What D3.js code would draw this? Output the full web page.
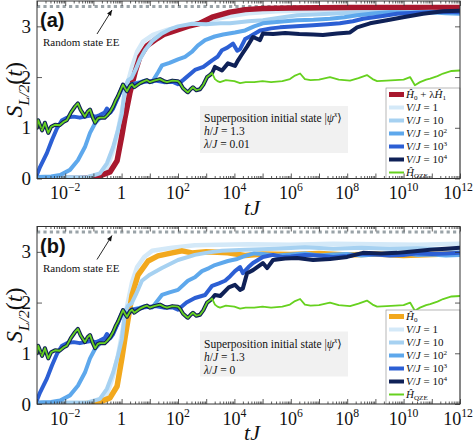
<!DOCTYPE html>
<html><head><meta charset="utf-8">
<script src="https://cdn.jsdelivr.net/npm/d3@7"></script>
<style>body{margin:0;background:#fff}svg{display:block}</style>
</head><body>
<svg id="c" width="474" height="444"></svg>
<script>
// ---------- data ([log10(tJ), S]) ----------
const xTickExps = [-2,0,2,4,6,8,10,12];
const yTicks = [0,1,2,3];
const randomEE = 3.39;

const qze = [[-3,1.0],[-2.96,1.15],[-2.82,0.95],[-2.72,1.1],[-2.6,0.9],[-2.5,1.02],[-2.36,1.06],[-2.2,1.05],[-2.05,1.12],[-1.94,1.15],[-1.8,1.3],[-1.65,1.42],[-1.55,1.48],[-1.45,1.35],[-1.3,1.22],[-1.2,1.32],[-1.12,1.36],[-1.02,1.2],[-0.94,1.1],[-0.85,1.18],[-0.77,1.2],[-0.6,1.2],[-0.52,1.24],[-0.4,1.32],[-0.3,1.42],[-0.2,1.55],[-0.13,1.62],[-0.03,1.75],[0.05,1.85],[0.12,1.78],[0.19,1.72],[0.3,1.83],[0.37,1.86],[0.45,1.8],[0.55,1.84],[0.65,1.88],[0.8,1.92],[0.9,1.94],[1.0,1.9],[1.15,1.93],[1.36,1.96],[1.5,1.92],[1.61,1.9],[1.8,1.93],[2.0,1.92],[2.07,1.88],[2.18,1.78],[2.3,1.72],[2.35,1.7],[2.45,1.76],[2.53,1.8],[2.65,1.74],[2.78,1.76],[2.9,1.85],[3.03,2.0],[3.15,2.05],[3.21,2.08],[3.31,1.96],[3.4,1.92],[3.49,1.9],[3.7,1.94],[3.84,1.93],[4.0,1.92],[4.2,1.88],[4.4,1.9],[4.7,1.9],[5.0,1.92],[5.3,1.9],[5.7,1.92],[5.97,1.96],[6.15,2.03],[6.33,2.07],[6.5,1.96],[6.7,1.94],[7.0,1.95],[7.39,2.0],[7.7,1.95],[8.1,1.93],[8.4,1.98],[8.7,2.04],[8.9,1.96],[9.06,1.92],[9.4,1.93],[9.7,1.94],[10.0,1.95],[10.23,2.0],[10.4,1.84],[10.58,1.9],[10.8,1.95],[10.94,1.97],[11.2,2.02],[11.4,2.07],[11.7,2.12],[12.0,2.13]];

const aHam = [[-3,0.0],[-1.5,0.0],[-0.87,0.03],[-0.41,0.13],[-0.16,0.35],[0.01,0.85],[0.12,1.2],[0.3,1.7],[0.48,2.1],[0.65,2.4],[0.9,2.62],[1.26,2.76],[1.5,2.84],[1.82,2.9],[2.35,3.0],[2.78,3.06],[3.21,3.18],[3.84,3.28],[4.38,3.33],[5.0,3.35],[6,3.36],[8,3.37],[10,3.37],[12,3.37]];
const bHam = [[-3,0],[-1.5,0],[-0.87,0.02],[-0.41,0.12],[-0.16,0.35],[0.01,0.9],[0.12,1.3],[0.37,2.15],[0.58,2.54],[0.94,2.82],[1.29,2.92],[1.79,2.98],[2.14,3.02],[2.5,2.98],[3.0,3.0],[3.77,2.98],[4.38,2.93],[5,2.96],[6,2.95],[7,2.97],[8,2.94],[9,2.96],[10,2.93],[11,2.95],[12,2.97]];

const aV1 = [[-3,0.02],[-1.0,0.03],[-0.77,0.07],[-0.5,0.22],[-0.3,0.55],[-0.13,0.95],[0.05,1.45],[0.2,1.85],[0.37,2.2],[0.55,2.5],[0.76,2.7],[1.11,2.83],[1.61,2.93],[2.32,3.02],[3.0,3.1],[3.8,3.2],[4.5,3.26],[5.5,3.3],[7,3.32],[9,3.33],[12,3.33]];
const bV1 = [[-3,0.02],[-1.0,0.03],[-0.77,0.07],[-0.5,0.22],[-0.3,0.55],[-0.13,0.95],[0.05,1.5],[0.2,1.95],[0.37,2.4],[0.55,2.7],[0.8,2.9],[1.08,3.02],[1.79,3.08],[2.6,3.13],[3.5,3.14],[4.5,3.15],[6,3.14],[7.5,3.16],[9,3.15],[10.5,3.14],[12,3.16]];

const v10Early = [[-3,0.02],[-1.2,0.03],[-0.77,0.1],[-0.52,0.3],[-0.3,0.62],[-0.13,0.95],[0.01,1.28],[0.12,1.8],[0.23,1.94],[0.35,1.98]];
const aV10Tail = [[0.5,2.15],[0.65,2.35],[0.83,2.53],[1.1,2.72],[1.43,2.86],[1.7,2.94],[2.0,3.0],[2.5,3.05],[3.0,3.04],[3.5,3.06],[3.84,3.06],[4.5,3.1],[5.01,3.12],[5.6,3.17],[6.22,3.22],[7.39,3.25],[8.56,3.28],[10,3.28],[11,3.29],[12,3.28]];
const bV10Tail = [[0.5,2.15],[0.72,2.43],[1.0,2.55],[1.43,2.68],[2.0,2.84],[2.6,2.94],[3.1,2.99],[3.56,3.02],[4.38,3.04],[5.5,3.06],[6.5,3.09],[7.5,3.06],[8.5,3.08],[9.5,3.06],[10.5,3.07],[11.3,3.05],[12,3.06]];

const v100Early = [[-3,0.03],[-2.5,0.04],[-2.18,0.07],[-1.83,0.17],[-1.55,0.36],[-1.3,0.62],[-1.12,0.9],[-0.94,1.09],[-0.77,1.19],[-0.6,1.25],[-0.52,1.35],[-0.45,1.28],[-0.3,1.4],[-0.13,1.6],[0.05,1.82],[0.19,1.76],[0.37,1.86],[0.65,1.9],[0.83,1.93],[1.08,1.9]];
const aV100Tail = [[1.3,2.1],[1.43,2.23],[1.7,2.28],[2.0,2.35],[2.25,2.4],[2.5,2.5],[2.7,2.62],[2.96,2.73],[3.3,2.8],[3.6,2.84],[4.02,2.88],[4.38,2.92],[4.7,3.0],[5.01,3.06],[5.6,3.09],[6.22,3.12],[6.8,3.13],[7.39,3.15],[7.9,3.18],[8.35,3.22],[9.0,3.26],[9.52,3.28],[10.3,3.27],[10.94,3.28],[11.5,3.26],[12,3.25]];
const bV100Tail = [[1.43,2.15],[1.7,2.2],[2.0,2.25],[2.35,2.43],[2.6,2.5],[2.85,2.62],[3.1,2.68],[3.31,2.74],[3.77,2.82],[4.1,2.86],[4.38,2.92],[4.7,2.97],[5,2.96],[5.5,2.93],[6,2.95],[6.5,2.97],[7,2.93],[7.5,2.95],[8,2.96],[8.5,2.93],[9,2.95],[9.5,2.97],[10,2.97],[10.5,2.94],[11,2.95],[11.5,2.93],[12,2.94]];

const v1000Early = [[-3,0.08],[-2.89,0.23],[-2.65,0.5],[-2.47,0.76],[-2.29,0.99],[-2.11,1.15],[-1.94,1.2],[-1.7,1.22],[-1.48,1.2],[-1.3,1.22],[-1.1,1.24],[-0.9,1.22],[-0.77,1.25],[-0.6,1.3],[-0.52,1.38],[-0.4,1.3],[-0.3,1.38],[-0.13,1.6],[0.05,1.84],[0.19,1.75],[0.37,1.86],[0.65,1.88],[0.83,1.91],[1.2,1.93],[1.5,1.9],[1.8,1.91],[2.0,1.86]];
const aV1000Tail = [[2.2,1.95],[2.6,2.14],[2.9,2.2],[3.21,2.33],[3.4,2.4],[3.56,2.53],[3.75,2.58],[3.95,2.66],[4.1,2.52],[4.2,2.55],[4.38,2.75],[4.55,2.8],[4.91,2.92],[5.3,2.96],[5.62,2.98],[6.2,3.0],[6.79,3.02],[7.3,3.04],[7.74,3.06],[8.2,3.1],[8.56,3.15],[9.2,3.2],[9.77,3.25],[10.4,3.27],[10.94,3.28],[11.5,3.29],[12,3.28]];
const bV1000Tail = [[2.3,2.0],[2.6,2.09],[2.96,2.15],[3.21,2.33],[3.45,2.38],[3.67,2.43],[3.85,2.52],[4.02,2.62],[4.2,2.7],[4.3,2.58],[4.5,2.7],[4.66,2.78],[5.01,2.9],[5.37,2.94],[5.7,2.9],[6,2.91],[6.5,2.94],[7,2.93],[7.5,2.9],[8,2.92],[8.5,2.96],[9,2.95],[9.5,2.93],[10,2.94],[10.5,2.97],[11,2.96],[11.5,2.97],[12,2.98]];

const v10000EarlyEnd = 3.21; // follows QZE curve up to here
const aV10000Tail = [[3.31,2.2],[3.56,2.13],[3.77,2.27],[4.02,2.22],[4.13,2.33],[4.27,2.45],[4.45,2.6],[4.66,2.79],[4.91,2.73],[5.01,2.86],[5.37,2.85],[5.8,2.87],[6.3,2.85],[6.79,2.84],[7.14,2.83],[7.64,2.86],[8.1,2.88],[8.35,2.98],[8.81,3.06],[9.41,3.12],[9.98,3.18],[10.69,3.25],[11.4,3.3],[12,3.31]];
const bV10000Tail = [[3.31,2.15],[3.5,2.13],[3.8,2.3],[4.02,2.35],[4.2,2.25],[4.3,2.28],[4.45,2.58],[4.66,2.64],[5.01,2.78],[5.16,2.68],[5.37,2.84],[5.8,2.87],[6.22,2.88],[6.79,2.84],[7.39,2.86],[8.0,2.9],[8.56,2.98],[9.2,2.97],[9.77,2.98],[10.4,3.01],[10.94,3.04],[11.5,3.06],[12,3.08]];

const colors = {ham:"#a8182e", h0:"#f2a81d", v1:"#d4e9f8", v10:"#a6d1f1", v100:"#5ea8ec", v1000:"#2c5fd4", v10000:"#0f2157", qze:"#66d11f"};

// ---------- drawing ----------
const svg = d3.select("#c");
const X0 = 37, X1 = 460;
const x = d3.scaleLog().domain([1e-3, 1e12]).range([X0, X1]);
const serif = "'Liberation Serif','DejaVu Serif',serif";

function rich(g, tx, ty, parts, fs, anchor, subK) {
  const sk = subK === undefined ? 0.28 : subK;
  const t = g.append("text").attr("x", tx).attr("y", ty).attr("font-family", serif)
    .attr("font-size", fs).attr("text-anchor", anchor || "start").attr("fill", "#111");
  let prev = 0;
  parts.forEach(p => {
    const off = p.s === "sub" ? sk*fs : p.s === "sup" ? -0.42*fs : 0;
    t.append("tspan").attr("dy", off - prev).attr("font-size", p.s ? fs*0.65 : fs)
      .attr("font-style", p.i ? "italic" : "normal").text(p.t);
    prev = off;
  });
  return t;
}

function panel(opts) {
  const top = opts.top, bot = opts.bot;
  const y = d3.scaleLinear().domain([0, 3.5]).range([bot, top]);
  const g = svg.append("g");
  const cid = "clip" + opts.id;
  svg.append("clipPath").attr("id", cid).append("rect")
    .attr("x", X0).attr("y", top).attr("width", X1 - X0).attr("height", bot - top);
  const line = d3.line().x(d => x(Math.pow(10, d[0]))).y(d => y(d[1]));
  const plot = g.append("g").attr("clip-path", `url(#${cid})`);

  plot.append("line").attr("x1", X0).attr("x2", X1).attr("y1", y(randomEE)).attr("y2", y(randomEE))
    .attr("stroke", "#9aa3a8").attr("stroke-width", 3).attr("stroke-dasharray", "3.2,3.2");

  opts.series.forEach(s => {
    plot.append("path").datum(s.data).attr("d", line).attr("fill", "none")
      .attr("stroke", s.color).attr("stroke-width", s.w)
      .attr("stroke-linejoin", "round").attr("stroke-linecap", "round");
  });

  // info box
  g.append("rect").attr("x", 200).attr("y", top + 105).attr("width", 148).attr("height", opts.boxH)
    .attr("fill", "#f1f1f1");
  rich(g, 204, top + 121, [{t:"Superposition initial state |"},{t:"ψ",i:1},{t:"x",i:1,s:"sup"},{t:"⟩"}], 11.5);
  rich(g, 204, top + 134, [{t:"h",i:1},{t:"/"},{t:"J",i:1},{t:" = 1.3"}], 11.5);
  rich(g, 204, top + 147, [{t:"λ",i:1},{t:"/"},{t:"J",i:1},{t:" = " + opts.lam}], 11.5);

  // legend
  const lg = g.append("g");
  lg.append("rect").attr("x", 386).attr("y", opts.legTop).attr("width", X1 - 386).attr("height", bot - opts.legTop)
    .attr("fill", "#fff").attr("stroke", "#888").attr("stroke-width", 0.6);
  opts.legend.forEach((l, i) => {
    const ly = opts.legTop + 6.5 + i * 13;
    lg.append("line").attr("x1", 389).attr("x2", 404).attr("y1", ly).attr("y2", ly)
      .attr("stroke", l.color).attr("stroke-width", l.w);
    rich(lg, 406, ly + 3.8, l.parts, 11, "start", 0.15);
  });

  // frame
  g.append("rect").attr("x", X0).attr("y", top).attr("width", X1 - X0).attr("height", bot - top)
    .attr("fill", "none").attr("stroke", "#333").attr("stroke-width", 1);

  // ticks
  const major = d3.range(-3, 13).map(e => Math.pow(10, e));
  const minor = [];
  d3.range(-3, 12).forEach(e => { for (let k = 2; k < 10; k++) minor.push(k * Math.pow(10, e)); });
  const tk = (ax, tr) => g.append("g").attr("transform", tr).call(ax).call(s => s.select(".domain").remove())
      .call(s => s.selectAll("line").attr("stroke", "#333").attr("stroke-width", 0.8));
  tk(d3.axisBottom(x).tickValues(major).tickSize(-5).tickFormat(""), `translate(0,${bot})`);
  tk(d3.axisBottom(x).tickValues(minor).tickSize(-2.5).tickFormat(""), `translate(0,${bot})`);
  tk(d3.axisTop(x).tickValues(major).tickSize(-5).tickFormat(""), `translate(0,${top})`);
  tk(d3.axisTop(x).tickValues(minor).tickSize(-2.5).tickFormat(""), `translate(0,${top})`);
  tk(d3.axisLeft(y).tickValues(yTicks).tickSize(-5).tickFormat(""), `translate(${X0},0)`);
  tk(d3.axisRight(y).tickValues(yTicks).tickSize(-5).tickFormat(""), `translate(${X1},0)`);

  // tick labels
  xTickExps.forEach(e => {
    const px = x(Math.pow(10, e));
    if (e === 0) rich(g, px, bot + 20.5, [{t:"1"}], 18, "middle");
    else rich(g, px + (e === 12 ? -2 : 0), bot + 20.5, [{t:"10"},{t: e < 0 ? "−" + (-e) : "" + e, s:"sup"}], 18, "middle");
  });
  yTicks.forEach(v => {
    g.append("text").attr("x", 31).attr("y", y(v) + 6.5).attr("text-anchor", "end")
      .attr("font-family", serif).attr("font-size", 19).attr("fill", "#111").text(v);
  });

  // axis labels
  rich(g, 252, bot + 36, [{t:"tJ",i:1}], 22, "middle");
  const yl = g.append("g").attr("transform", `translate(22,${(top + bot) / 2}) rotate(-90)`);
  rich(yl, 0, 0, [{t:"S",i:1},{t:"L/2",i:1,s:"sub"},{t:"("},{t:"t",i:1},{t:")"}], 24, "middle");

  // panel letter
  g.append("text").attr("x", 40).attr("y", top + 26).attr("font-family", "'Liberation Sans',Arial,sans-serif")
    .attr("font-weight", "bold").attr("font-size", 20).attr("fill", "#111").text(opts.letter);

  // random state annotation
  g.append("text").attr("x", 43).attr("y", top + 45).attr("font-family", serif).attr("font-size", 11)
    .attr("fill", "#111").text("Random state EE");
  const ax1 = 97, ay1 = top + 33, ax2 = 112, ay2 = top + 9;
  g.append("line").attr("x1", ax1).attr("y1", ay1).attr("x2", ax2).attr("y2", ay2)
    .attr("stroke", "#111").attr("stroke-width", 0.9);
  const ang = Math.atan2(ay2 - ay1, ax2 - ax1);
  const hl = 6, hw = 0.4;
  g.append("path").attr("d", `M${ax2},${ay2} L${ax2 - hl*Math.cos(ang - hw)},${ay2 - hl*Math.sin(ang - hw)} L${ax2 - hl*Math.cos(ang + hw)},${ay2 - hl*Math.sin(ang + hw)} Z`)
    .attr("fill", "#111");
}

const qzeHead = qze.filter(d => d[0] <= v10000EarlyEnd);

function legendItems(first) {
  return [
    first,
    {color: colors.v1, w: 4, parts: [{t:"V",i:1},{t:"/"},{t:"J",i:1},{t:" = 1"}]},
    {color: colors.v10, w: 4, parts: [{t:"V",i:1},{t:"/"},{t:"J",i:1},{t:" = 10"}]},
    {color: colors.v100, w: 4, parts: [{t:"V",i:1},{t:"/"},{t:"J",i:1},{t:" = 10"},{t:"2",s:"sup"}]},
    {color: colors.v1000, w: 4, parts: [{t:"V",i:1},{t:"/"},{t:"J",i:1},{t:" = 10"},{t:"3",s:"sup"}]},
    {color: colors.v10000, w: 4, parts: [{t:"V",i:1},{t:"/"},{t:"J",i:1},{t:" = 10"},{t:"4",s:"sup"}]},
    {color: colors.qze, w: 2, parts: [{t:"Ĥ",i:1},{t:"QZE",s:"sub"}]}
  ];
}

panel({
  id: "a", top: 1, bot: 178.5, letter: "(a)", lam: "0.01", boxH: 47, legTop: 88,
  series: [
    {data: aV1, color: colors.v1, w: 4.5},
    {data: aHam, color: colors.ham, w: 5.5},
    {data: v10Early.concat(aV10Tail), color: colors.v10, w: 4},
    {data: v100Early.concat(aV100Tail), color: colors.v100, w: 4},
    {data: v1000Early.concat(aV1000Tail), color: colors.v1000, w: 4},
    {data: qzeHead.concat(aV10000Tail), color: colors.v10000, w: 4},
    {data: qze, color: colors.qze, w: 1.8}
  ],
  legend: legendItems({color: colors.ham, w: 5, parts: [{t:"Ĥ",i:1},{t:"0",s:"sub"},{t:" + λ"},{t:"Ĥ",i:1},{t:"1",s:"sub"}]})
});

panel({
  id: "b", top: 226.5, bot: 404, letter: "(b)", lam: "0", boxH: 45, legTop: 310,
  series: [
    {data: bV1, color: colors.v1, w: 4.5},
    {data: bHam, color: colors.h0, w: 5.5},
    {data: v10Early.concat(bV10Tail), color: colors.v10, w: 4},
    {data: v100Early.concat(bV100Tail), color: colors.v100, w: 4},
    {data: v1000Early.concat(bV1000Tail), color: colors.v1000, w: 4},
    {data: qzeHead.concat(bV10000Tail), color: colors.v10000, w: 4},
    {data: qze, color: colors.qze, w: 1.8}
  ],
  legend: legendItems({color: colors.h0, w: 5, parts: [{t:"Ĥ",i:1},{t:"0",s:"sub"}]})
});
</script>
</body></html>
